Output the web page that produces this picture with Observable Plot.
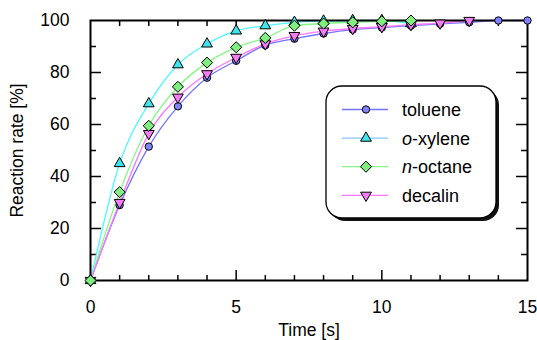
<!DOCTYPE html>
<html>
<head>
<meta charset="utf-8">
<script src="https://cdn.jsdelivr.net/npm/d3@7"></script>
<script src="https://cdn.jsdelivr.net/npm/@observablehq/plot@0.6"></script>
<style>
  html, body { margin: 0; padding: 0; background: #fff; }
  #wrap { position: relative; width: 537px; height: 340px; font-family: "Liberation Sans", Arial, sans-serif; }
  #legend { position: absolute; left: 0; top: 0; pointer-events: none; }
</style>
</head>
<body>
<div id="wrap"></div>
<script>
// ---- data ----
const seriesNames = ["toluene", "o-xylene", "n-octane", "decalin"];
const tolueneTime = [0, 1, 2, 3, 4, 5, 6, 7, 8, 9, 10, 11, 12, 13, 14, 15];
const tolueneRate = [0, 29, 51.5, 67, 78, 84.5, 90.5, 93, 95, 96.5, 97.3, 98, 98.7, 99.3, 100, 100];
const oxyleneTime = [0, 1, 2, 3, 4, 5, 6, 7, 8, 9, 10, 11];
const oxyleneRate = [0, 45, 68, 83, 91, 96, 98, 99.3, 99.8, 100, 100, 98.8];
const noctaneTime = [0, 1, 2, 3, 4, 5, 6, 7, 8, 9, 10, 11];
const noctaneRate = [0, 34, 59.5, 74.5, 83.8, 89.7, 93.3, 98, 98.8, 99.3, 99.7, 100];
const decalinTime = [0, 1, 2, 3, 4, 5, 6, 7, 8, 9, 10, 11, 12, 13];
const decalinRate = [0, 30, 56.5, 70.5, 79.5, 85.8, 91, 94.2, 95.9, 96.9, 97.6, 98.4, 99, 100];
const xTickLabels = [0, 5, 10, 15];
const yTickLabels = [0, 20, 40, 60, 80, 100];
const xMinorTicks = [1, 2, 3, 4, 6, 7, 8, 9, 11, 12, 13, 14];
const xMajorTicks = [5, 10];
const yMinorTicks = [10, 30, 50, 70, 90];
const yMajorTicks = [20, 40, 60, 80];

// ---- styles ----
const lineColor = {"toluene": "#7474ff", "o-xylene": "#4ef8ff", "n-octane": "#84f884", "decalin": "#ff76ff"};
const legendLineColor = {"toluene": "#7474ff", "o-xylene": "#84c4ff", "n-octane": "#84f884", "decalin": "#ff76ff"};
const fillColor = {"toluene": "#8282ff", "o-xylene": "#3ee4ee", "n-octane": "#80ee80", "decalin": "#f47cf4"};

const triangleDown = {
  draw(context, size) {
    const sqrt3 = Math.sqrt(3);
    const y = -Math.sqrt(size / (sqrt3 * 3));
    context.moveTo(0, -y * 2);
    context.lineTo(-sqrt3 * y, y);
    context.lineTo(sqrt3 * y, y);
    context.closePath();
  }
};
const symbolOf = {"toluene": "circle", "o-xylene": "triangle", "n-octane": "diamond2", "decalin": triangleDown};
const rOf = {"toluene": 3.7, "o-xylene": 4.0, "n-octane": 5.0, "decalin": 4.0};

const build = (name, ts, vs) => ts.map((t, i) => ({series: name, t, v: vs[i]}));
const data = {
  "toluene": build("toluene", tolueneTime, tolueneRate),
  "o-xylene": build("o-xylene", oxyleneTime, oxyleneRate),
  "n-octane": build("n-octane", noctaneTime, noctaneRate),
  "decalin": build("decalin", decalinTime, decalinRate)
};

const W = 537, H = 340, mL = 90, mR = 10, mT = 20, mB = 60;
const fw = W - mL - mR, fh = H - mT - mB;
const FS = 17.5;

const lineMarks = seriesNames.map(n => Plot.line(data[n], {x: "t", y: "v", stroke: lineColor[n], strokeWidth: 1.3, curve: "monotone-x"}));
const dotOrder = ["toluene", "o-xylene", "decalin", "n-octane"];
const dotMarks = dotOrder.map(n => Plot.dot(data[n], {x: "t", y: "v", symbol: symbolOf[n], r: rOf[n], fill: fillColor[n], stroke: "black", strokeWidth: 1}));

const chart = Plot.plot({
  width: W, height: H,
  marginLeft: mL, marginRight: mR, marginTop: mT, marginBottom: mB,
  style: {fontFamily: "'Liberation Sans', Arial, sans-serif", fontSize: FS + "px", color: "#000", background: "#fff"},
  x: {domain: [0, 15]},
  y: {domain: [0, 100]},
  marks: [
    // ticks, inward
    Plot.tickX(xMinorTicks, {x: d => d, insetTop: fh - 5, stroke: "black", strokeWidth: 1.5}),
    Plot.tickX(xMajorTicks, {x: d => d, insetTop: fh - 10, stroke: "black", strokeWidth: 1.5}),
    Plot.tickX(xMinorTicks, {x: d => d, insetBottom: fh - 6, stroke: "black", strokeWidth: 1.5}),
    Plot.tickX(xMajorTicks, {x: d => d, insetBottom: fh - 11, stroke: "black", strokeWidth: 1.5}),
    Plot.tickY(yMinorTicks, {y: d => d, insetRight: fw - 6, stroke: "black", strokeWidth: 1.5}),
    Plot.tickY(yMajorTicks, {y: d => d, insetRight: fw - 11, stroke: "black", strokeWidth: 1.5}),
    Plot.tickY(yMinorTicks, {y: d => d, insetLeft: fw - 6, stroke: "black", strokeWidth: 1.5}),
    Plot.tickY(yMajorTicks, {y: d => d, insetLeft: fw - 11, stroke: "black", strokeWidth: 1.5}),
    Plot.axisX({ticks: xTickLabels, tickSize: 0, tickPadding: 20, label: null, fontSize: FS}),
    Plot.axisY({ticks: yTickLabels, tickSize: 0, tickPadding: 21, label: null, fontSize: FS}),
    Plot.text(["Time [s]"], {frameAnchor: "bottom", dy: 50, lineAnchor: "middle", textAnchor: "middle", fontSize: FS}),
    Plot.text(["Reaction rate [%]"], {frameAnchor: "left", dx: -73, rotate: -90, lineAnchor: "middle", textAnchor: "middle", fontSize: FS}),
    ...lineMarks,
    Plot.frame({stroke: "black", strokeWidth: 2}),
    ...dotMarks
  ]
});

const wrap = document.getElementById("wrap");
wrap.appendChild(chart);

// ---- legend overlay ----
const lg = d3.select(wrap).append("svg").attr("id", "legend").attr("width", W).attr("height", H);
const bx = 326, by = 86, bw = 170, bh = 132, rr = 16;
lg.append("rect").attr("x", bx + 3).attr("y", by + 3).attr("width", bw).attr("height", bh).attr("rx", rr).attr("fill", "#111");
lg.append("rect").attr("x", bx).attr("y", by).attr("width", bw).attr("height", bh).attr("rx", rr).attr("fill", "#fff").attr("stroke", "#000").attr("stroke-width", 1.3);
const labelParts = {
  "toluene": [["toluene", false]],
  "o-xylene": [["o", true], ["-xylene", false]],
  "n-octane": [["n", true], ["-octane", false]],
  "decalin": [["decalin", false]]
};
const symD3 = {"toluene": d3.symbolCircle, "o-xylene": d3.symbolTriangle, "n-octane": d3.symbolDiamond2, "decalin": triangleDown};
seriesNames.forEach((n, i) => {
  const cy = 109.5 + i * 28.6;
  lg.append("line").attr("x1", 342).attr("x2", 388).attr("y1", cy).attr("y2", cy).attr("stroke", legendLineColor[n]).attr("stroke-width", 1.3);
  const r = rOf[n];
  lg.append("path").attr("transform", `translate(366,${cy})`)
    .attr("d", d3.symbol(symD3[n], Math.PI * r * r)())
    .attr("fill", fillColor[n]).attr("stroke", "#000").attr("stroke-width", 1);
  const t = lg.append("text").attr("x", 402).attr("y", cy).attr("dy", "0.36em")
    .attr("font-family", "'Liberation Sans', Arial, sans-serif").attr("font-size", 18).attr("fill", "#000");
  labelParts[n].forEach(([s, it]) => {
    const sp = t.append("tspan").text(s);
    if (it) sp.attr("font-style", "italic");
  });
});
</script>
</body>
</html>
